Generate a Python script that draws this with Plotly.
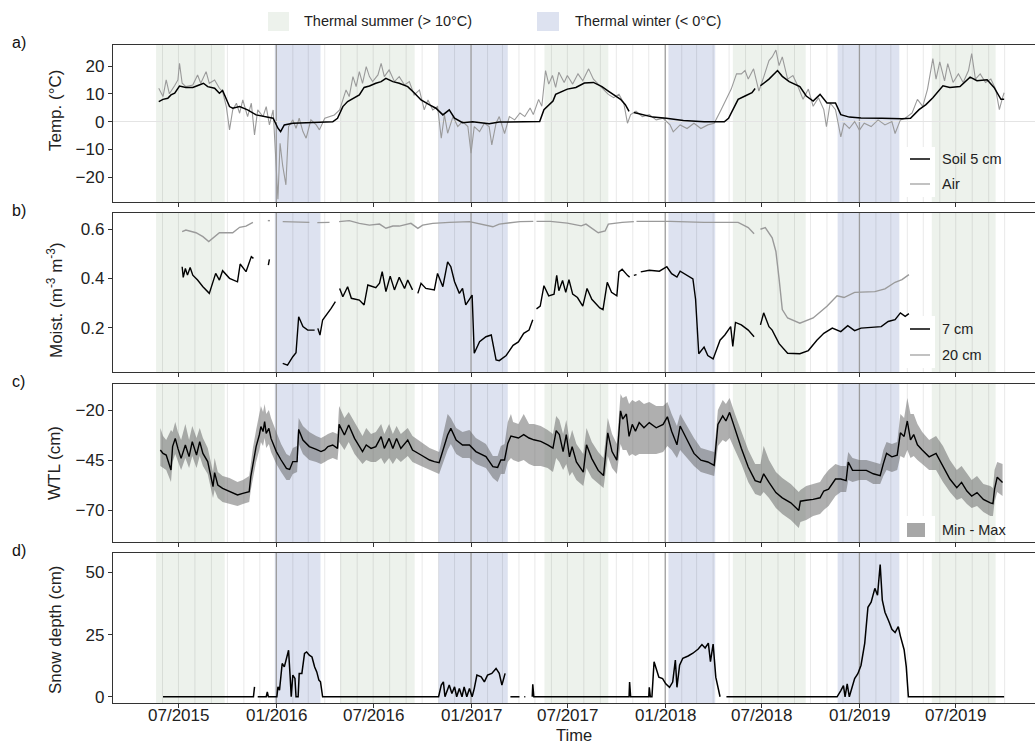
import plotly.graph_objects as go
import pandas as pd

# ---------------- data ----------------
summer_start = ["2015-05-20", "2016-04-30", "2017-05-19", "2018-05-08", "2019-05-17"]
summer_end = ["2015-09-26", "2016-09-17", "2017-09-16", "2018-09-22", "2019-09-14"]
winter_start = ["2015-12-29", "2016-11-01", "2018-01-07", "2018-11-21"]
winter_end = ["2016-03-24", "2017-03-11", "2018-04-05", "2019-03-17"]

tick_dates = ["2015-07-01", "2016-01-01", "2016-07-01", "2017-01-01", "2017-07-01",
              "2018-01-01", "2018-07-01", "2019-01-01", "2019-07-01"]
tick_labels = ["07/2015", "01/2016", "07/2016", "01/2017", "07/2017",
               "01/2018", "07/2018", "01/2019", "07/2019"]

soil_dates = ["2015-05-25", "2015-06-02", "2015-06-11", "2015-06-17", "2015-06-24", "2015-07-03", "2015-07-15",
              "2015-07-28", "2015-08-09", "2015-08-17", "2015-08-25", "2015-09-07", "2015-09-16", "2015-09-22",
              "2015-10-05", "2015-10-11", "2015-10-24", "2015-11-08", "2015-11-24", "2015-12-13", "2015-12-26",
              "2016-01-04", "2016-01-09", "2016-01-16", "2016-02-01", "2016-02-26", "2016-03-22", "2016-04-16",
              "2016-04-25", "2016-05-05", "2016-05-14", "2016-05-24", "2016-06-05", "2016-06-14", "2016-06-24",
              "2016-07-06", "2016-07-16", "2016-07-25", "2016-08-07", "2016-08-19", "2016-09-04", "2016-09-16",
              "2016-09-29", "2016-10-15", "2016-10-27", "2016-11-09", "2016-11-21", "2016-12-01", "2016-12-16",
              "2017-01-04", "2017-02-04", "2017-02-23", "2017-03-20", "2017-05-10", "2017-05-18", "2017-05-27",
              "2017-06-04", "2017-06-09", "2017-07-01", "2017-07-17", "2017-08-02", "2017-08-19", "2017-09-04",
              "2017-09-16", "2017-09-29", "2017-10-09", "2017-10-18", "2017-10-25", "2017-10-29", "2017-11-03",
              "2017-11-19", "2017-12-09", "2018-01-03", "2018-02-04", "2018-03-15", "2018-04-22", "2018-04-30",
              "2018-05-08", "2018-05-18", "2018-05-31", "2018-06-13", "2018-06-19", "2018-06-24", "2018-06-29",
              "2018-07-15", "2018-07-31", "2018-08-09", "2018-08-22", "2018-09-11", "2018-09-23", "2018-10-06",
              "2018-10-19", "2018-11-01", "2018-11-17", "2018-11-27", "2018-12-13", "2019-01-04", "2019-02-12",
              "2019-03-22", "2019-04-07", "2019-04-23", "2019-05-06", "2019-05-19", "2019-06-07", "2019-06-20",
              "2019-07-09", "2019-07-28", "2019-08-10", "2019-08-29", "2019-09-11", "2019-09-24", "2019-09-30"]
soil_temp = [7.2, 8.0, 8.4, 9.6, 10.2, 12.8, 12.3,
             12.3, 13.2, 13.8, 12.6, 12.0, 10.2, 11.2,
             5.4, 4.8, 5.4, 4.2, 2.4, 1.8, 1.2,
             -2.4, -3.6, -1.2, -0.6, -0.4, -0.2, -0.1,
             1.2, 5.4, 7.2, 8.4, 9.6, 12.3, 12.8,
             13.8, 14.4, 15.6, 14.4, 13.8, 12.6, 10.4,
             7.8, 6.0, 4.8, 2.4, 4.2, 1.2, -0.4,
             -0.1, -0.8, -0.2, -0.1, 0.0, 4.3, 6.1,
             7.4, 9.8, 11.7, 12.3, 13.9, 14.1, 12.6,
             11.0, 9.2, 8.0, 6.1, 3.7, None, 3.3,
             2.5, 1.6, 1.2, 0.4, -0.1, -0.1, 1.2,
             4.3, 8.0, 9.2, 10.4, 11.9, None, 12.9,
             15.3, 18.4, 16.3, 14.4, 12.6, 9.2, 7.4,
             9.8, 6.7, 6.7, 2.5, 1.6, 1.3, 1.2,
             1.0, 1.2, 4.3, 6.1, 8.6, 12.9, 12.3,
             12.6, 16.0, 14.7, 15.1, 12.3, 8.0, 8.0]

air_dates = ["2015-05-25", "2015-06-02", "2015-06-08", "2015-06-14", "2015-06-24", "2015-06-30", "2015-07-03",
             "2015-07-08", "2015-07-15", "2015-07-28", "2015-08-06", "2015-08-12", "2015-08-22", "2015-08-28",
             "2015-09-07", "2015-09-16", "2015-09-22", "2015-09-29", "2015-10-05", "2015-10-11", "2015-10-18",
             "2015-10-24", "2015-10-30", "2015-11-08", "2015-11-15", "2015-11-21", "2015-11-27", "2015-12-07",
             "2015-12-13", "2015-12-19", "2015-12-26", "2015-12-31", "2016-01-04", "2016-01-08", "2016-01-13",
             "2016-01-19", "2016-01-24", "2016-02-01", "2016-02-07", "2016-02-13", "2016-02-20", "2016-02-26",
             "2016-03-06", "2016-03-16", "2016-03-22", "2016-04-01", "2016-04-10", "2016-04-19", "2016-04-29",
             "2016-05-05", "2016-05-11", "2016-05-17", "2016-05-24", "2016-05-30", "2016-06-05", "2016-06-11",
             "2016-06-18", "2016-06-24", "2016-06-30", "2016-07-10", "2016-07-16", "2016-07-22", "2016-07-31",
             "2016-08-10", "2016-08-19", "2016-08-29", "2016-09-07", "2016-09-16", "2016-09-26", "2016-10-05",
             "2016-10-12", "2016-10-21", "2016-10-30", "2016-11-06", "2016-11-12", "2016-11-18", "2016-11-28",
             "2016-12-07", "2016-12-16", "2016-12-26", "2017-01-01", "2017-01-07", "2017-01-17", "2017-01-26",
             "2017-02-04", "2017-02-09", "2017-02-17", "2017-02-23", "2017-03-05", "2017-03-14", "2017-03-24",
             "2017-04-03", "2017-04-12", "2017-04-22", "2017-04-28", "2017-05-08", "2017-05-14", "2017-05-21",
             "2017-05-27", "2017-06-03", "2017-06-09", "2017-06-15", "2017-06-25", "2017-07-01", "2017-07-11",
             "2017-07-21", "2017-07-30", "2017-08-10", "2017-08-19", "2017-08-28", "2017-09-07", "2017-09-16",
             "2017-09-26", "2017-10-06", "2017-10-15", "2017-10-22", "2017-10-28", "2017-11-07", "2017-11-19",
             "2017-12-02", "2017-12-15", "2017-12-28", "2018-01-10", "2018-01-16", "2018-01-29", "2018-02-11",
             "2018-02-24", "2018-03-09", "2018-03-22", "2018-04-03", "2018-04-16", "2018-04-26", "2018-05-05",
             "2018-05-15", "2018-05-24", "2018-05-31", "2018-06-06", "2018-06-16", "2018-06-26", "2018-07-05",
             "2018-07-15", "2018-07-21", "2018-07-28", "2018-08-03", "2018-08-09", "2018-08-19", "2018-08-29",
             "2018-09-07", "2018-09-17", "2018-09-27", "2018-10-06", "2018-10-16", "2018-10-26", "2018-10-31",
             "2018-11-07", "2018-11-17", "2018-11-27", "2018-12-03", "2018-12-13", "2018-12-23", "2019-01-01",
             "2019-01-10", "2019-01-23", "2019-02-05", "2019-02-18", "2019-03-03", "2019-03-09", "2019-03-19",
             "2019-03-28", "2019-04-10", "2019-04-20", "2019-04-30", "2019-05-09", "2019-05-19", "2019-05-25",
             "2019-06-01", "2019-06-10", "2019-06-16", "2019-06-26", "2019-07-06", "2019-07-15", "2019-07-25",
             "2019-07-31", "2019-08-07", "2019-08-16", "2019-08-26", "2019-09-05", "2019-09-14", "2019-09-21",
             "2019-09-27", "2019-09-30"]
air_temp = [12, 9, 15, 10, 13, 15, 21,
            13.8, 12.6, 13.2, 16.8, 13.8, 18, 13.8,
            15, 12, 10.8, 5.4, -3, 4.2, 6.6,
            3, 7.8, 1.8, 6.6, -4.8, 4.2, 1.8,
            5.4, -1.2, 4.2, -11.4, -28, -7.8, -16,
            -22.8, -1.8, 0.6, -2.4, 1.2, -3.6, -6,
            0.6, -1.2, -3, 1.2, 1.8, 2.4, 4.2,
            7.8, 11.4, 9, 16.2, 12.6, 18, 13.8,
            19.8, 16.2, 14.4, 16.8, 21, 16.2, 18.6,
            14.4, 16.2, 13.2, 14.4, 9.6, 11.4, 4.2,
            7.8, 4.2, 5.4, -6, 2.4, -4.2, 1.8,
            -1.8, 0, -1.8, -11.4, -1.8, -3.6, -0.6,
            -1.8, -8.4, -0.6, 1.8, -4.3, 1.8, 0.6,
            3.1, 1.8, 4.9, 2.5, 8, 5.5, 18.4,
            13.5, 16.6, 12.3, 17.8, 14.1, 16.6, 13.5,
            17.2, 14.7, 19, 15.3, 13.5, 11.7, 9.8,
            8.6, 9.8, 6.7, -0.6, 2.5, 3.7, 1.8,
            2.5, 0.6, 1.2, -1.2, -3.7, -1.2, -2.5,
            -0.6, -2.5, -1.2, -0.6, 4.3, 8, 11.7,
            17.2, 17.2, 18.4, 15.3, 19, 11, 16,
            22, 23.3, 25.8, 20.2, 23.3, 15.3, 16.6,
            12.9, 8, 11.7, 5.5, 8.6, 4.3, -1.8,
            6.7, 4.3, -5.5, -0.6, -2.5, 0, -3.1,
            -0.6, -1.8, 0.6, -1.2, 0, -4.3, 0.6,
            1.2, 3.1, 8, 5.5, 11.7, 22.7, 15.3,
            21.5, 14.7, 20.9, 14.1, 17.2, 14.1, 18.4,
            24.5, 15.3, 17.2, 14.1, 15.3, 11.7, 4.3,
            8.6, 10.4]

m20_dates = ["2015-07-08", "2015-07-15", "2015-08-03", "2015-08-16", "2015-08-27", "2015-09-07", "2015-09-16",
             "2015-10-11", "2015-10-24", "2015-11-05", "2015-11-18", "2015-11-25", "2015-12-16", "2015-12-20",
             "2015-12-28", "2016-01-13", "2016-02-13", "2016-03-03", "2016-03-10", "2016-03-18", "2016-04-10",
             "2016-04-20", "2016-04-28", "2016-05-17", "2016-06-05", "2016-06-24", "2016-07-13", "2016-07-25",
             "2016-08-07", "2016-08-19", "2016-09-10", "2016-09-23", "2016-10-02", "2016-10-21", "2016-11-21",
             "2016-12-29", "2017-02-11", "2017-02-23", "2017-04-03", "2017-04-28", "2017-05-01", "2017-05-04",
             "2017-05-30", "2017-07-01", "2017-07-27", "2017-08-05", "2017-08-28", "2017-09-10", "2017-09-16",
             "2017-10-12", "2017-11-03", "2017-11-05", "2017-11-08", "2017-11-19", "2018-01-10", "2018-03-15",
             "2018-05-18", "2018-06-06", "2018-06-17", "2018-06-23", "2018-06-29", "2018-07-08", "2018-07-21",
             "2018-07-28", "2018-08-03", "2018-08-09", "2018-08-19", "2018-09-11", "2018-10-06", "2018-11-01",
             "2018-11-20", "2018-12-03", "2018-12-23", "2019-01-30", "2019-02-18", "2019-03-09", "2019-03-22",
             "2019-04-04"]
m20_vals = [0.589, 0.596, 0.585, 0.569, 0.549, 0.569, 0.585,
            0.585, 0.607, 0.612, 0.627, None, 0.634, 0.634,
            None, 0.630, 0.627, 0.627, None, 0.626, 0.627,
            None, 0.630, 0.634, 0.623, 0.616, 0.620, 0.603,
            0.612, 0.612, 0.623, 0.603, 0.616, 0.623, 0.627,
            0.630, 0.609, 0.620, 0.630, 0.631, None, 0.631,
            0.631, 0.624, 0.613, 0.620, 0.585, 0.592, 0.620,
            0.627, 0.630, None, 0.631, 0.631, 0.631, 0.627,
            0.627, 0.606, 0.581, None, 0.599, 0.606, 0.564,
            0.509, 0.398, 0.273, 0.239, 0.218, 0.239, 0.287,
            0.329, 0.322, 0.343, 0.346, 0.357, 0.384, 0.395,
            0.415]

m7_dates = ["2015-07-08", "2015-07-10", "2015-07-14", "2015-07-18", "2015-07-23", "2015-07-28", "2015-08-06",
            "2015-08-16", "2015-08-28", "2015-09-09", "2015-09-16", "2015-09-22", "2015-10-05", "2015-10-20",
            "2015-10-25", "2015-11-05", "2015-11-15", "2015-11-19", "2015-11-25", "2015-12-17", "2015-12-19",
            "2015-12-28", "2016-01-13", "2016-01-22", "2016-02-01", "2016-02-07", "2016-02-12", "2016-02-20",
            "2016-02-29", "2016-03-13", "2016-03-16", "2016-03-19", "2016-03-23", "2016-03-28", "2016-04-07",
            "2016-04-13", "2016-04-21", "2016-04-25", "2016-04-29", "2016-05-05", "2016-05-14", "2016-05-21",
            "2016-06-05", "2016-06-14", "2016-06-21", "2016-06-29", "2016-07-06", "2016-07-13", "2016-07-18",
            "2016-07-25", "2016-08-02", "2016-08-10", "2016-08-19", "2016-08-29", "2016-09-04", "2016-09-13",
            "2016-09-18", "2016-09-23", "2016-09-29", "2016-10-08", "2016-10-24", "2016-10-30", "2016-11-09",
            "2016-11-18", "2016-11-24", "2016-12-01", "2016-12-10", "2016-12-16", "2016-12-22", "2016-12-28",
            "2017-01-03", "2017-01-07", "2017-01-17", "2017-01-29", "2017-02-08", "2017-02-17", "2017-02-23",
            "2017-03-08", "2017-03-21", "2017-03-31", "2017-04-10", "2017-04-20", "2017-04-27", "2017-04-30",
            "2017-05-04", "2017-05-11", "2017-05-18", "2017-05-27", "2017-06-06", "2017-06-11", "2017-06-15",
            "2017-06-22", "2017-06-28", "2017-07-04", "2017-07-11", "2017-07-20", "2017-07-30", "2017-08-07",
            "2017-08-16", "2017-08-31", "2017-09-06", "2017-09-14", "2017-09-22", "2017-10-02", "2017-10-06",
            "2017-10-12", "2017-10-22", "2017-10-26", "2017-10-30", "2017-11-03", "2017-11-08", "2017-11-12",
            "2017-11-16", "2017-12-02", "2017-12-21", "2018-01-04", "2018-01-13", "2018-01-23", "2018-01-29",
            "2018-02-11", "2018-02-22", "2018-02-27", "2018-03-05", "2018-03-15", "2018-03-22", "2018-04-01",
            "2018-04-14", "2018-04-23", "2018-05-04", "2018-05-08", "2018-05-13", "2018-05-24", "2018-06-06",
            "2018-06-17", "2018-06-23", "2018-06-29", "2018-07-05", "2018-07-15", "2018-07-21", "2018-08-03",
            "2018-08-19", "2018-09-11", "2018-09-27", "2018-10-13", "2018-10-26", "2018-11-11", "2018-11-27",
            "2018-12-10", "2018-12-23", "2019-01-04", "2019-01-23", "2019-02-11", "2019-02-24", "2019-03-09",
            "2019-03-19", "2019-03-28", "2019-04-04"]
m7_vals = [0.447, 0.404, 0.440, 0.413, 0.444, 0.413, 0.393,
           0.366, 0.339, 0.420, 0.393, 0.431, 0.400, 0.386,
           0.458, 0.427, 0.488, 0.481, None, 0.454, 0.477,
           None, 0.055, 0.048, 0.082, 0.098, 0.244, 0.204,
           0.190, 0.190, None, 0.197, 0.170, 0.231, 0.258,
           0.278, 0.305, None, 0.359, 0.325, 0.366, 0.319,
           0.312, 0.292, 0.373, 0.366, 0.362, 0.380, 0.427,
           0.346, 0.409, 0.353, 0.404, 0.359, 0.393, 0.353,
           None, 0.339, 0.380, 0.359, 0.353, 0.420, 0.366,
           0.467, 0.447, 0.386, 0.339, 0.359, 0.292, 0.312,
           0.332, 0.096, 0.143, 0.163, 0.170, 0.069, 0.066,
           0.087, 0.128, 0.142, 0.177, 0.190, 0.232, None,
           0.276, 0.287, 0.370, 0.329, 0.336, 0.412, 0.350,
           0.391, 0.343, 0.395, 0.336, 0.322, 0.287, 0.359,
           0.315, 0.280, 0.273, 0.384, 0.343, 0.329, 0.426,
           0.437, 0.412, 0.405, None, 0.412, 0.415, None,
           0.426, 0.433, 0.429, 0.447, 0.419, 0.405, 0.429,
           0.412, 0.398, 0.315, 0.094, 0.121, 0.087, 0.073,
           0.149, 0.170, 0.204, 0.124, 0.221, 0.211, 0.190,
           0.163, None, 0.211, 0.260, 0.204, 0.190, 0.135,
           0.096, 0.094, 0.107, 0.149, 0.177, 0.198, 0.184,
           0.208, 0.188, 0.198, 0.202, 0.204, 0.225, 0.232,
           0.260, 0.246, 0.257]

wtl_dates = ["2015-05-28", "2015-06-02", "2015-06-08", "2015-06-17", "2015-06-20", "2015-06-25", "2015-06-30",
             "2015-07-06", "2015-07-14", "2015-07-21", "2015-07-27", "2015-08-04", "2015-08-10", "2015-08-16",
             "2015-08-25", "2015-09-04", "2015-09-07", "2015-09-13", "2015-09-22", "2015-10-05", "2015-10-20",
             "2015-10-30", "2015-11-11", "2015-11-14", "2015-11-18", "2015-11-24", "2015-11-30", "2015-12-03",
             "2015-12-07", "2015-12-10", "2015-12-13", "2015-12-18", "2015-12-22", "2015-12-27", "2016-01-01",
             "2016-01-10", "2016-01-20", "2016-01-26", "2016-02-01", "2016-02-09", "2016-02-12", "2016-02-20",
             "2016-03-03", "2016-03-16", "2016-03-25", "2016-04-01", "2016-04-07", "2016-04-16", "2016-04-25",
             "2016-04-28", "2016-05-08", "2016-05-16", "2016-05-27", "2016-06-11", "2016-06-18", "2016-06-27",
             "2016-07-06", "2016-07-16", "2016-07-22", "2016-07-31", "2016-08-07", "2016-08-14", "2016-08-22",
             "2016-09-04", "2016-09-13", "2016-09-29", "2016-10-15", "2016-10-24", "2016-11-02", "2016-11-18",
             "2016-11-24", "2016-12-04", "2016-12-16", "2016-12-29", "2017-01-10", "2017-01-29", "2017-02-11",
             "2017-02-20", "2017-02-26", "2017-03-05", "2017-03-11", "2017-03-17", "2017-03-21", "2017-03-31",
             "2017-04-10", "2017-04-20", "2017-04-29", "2017-05-12", "2017-05-25", "2017-06-04", "2017-06-10",
             "2017-06-16", "2017-06-23", "2017-06-29", "2017-07-05", "2017-07-10", "2017-07-18", "2017-07-31",
             "2017-08-06", "2017-08-16", "2017-08-28", "2017-09-07", "2017-09-15", "2017-09-23", "2017-10-02",
             "2017-10-09", "2017-10-13", "2017-10-20", "2017-10-25", "2017-10-31", "2017-11-06", "2017-11-13",
             "2017-11-22", "2017-12-02", "2017-12-15", "2017-12-28", "2018-01-05", "2018-01-13", "2018-01-23",
             "2018-01-29", "2018-02-11", "2018-02-24", "2018-03-09", "2018-03-22", "2018-04-03", "2018-04-10",
             "2018-04-19", "2018-04-25", "2018-05-02", "2018-05-12", "2018-05-24", "2018-06-06", "2018-06-19",
             "2018-06-29", "2018-07-05", "2018-07-15", "2018-07-28", "2018-08-09", "2018-08-25", "2018-09-09",
             "2018-09-12", "2018-09-23", "2018-10-06", "2018-10-19", "2018-10-26", "2018-11-04", "2018-11-17",
             "2018-11-27", "2018-12-07", "2018-12-11", "2018-12-19", "2019-01-01", "2019-01-14", "2019-01-27",
             "2019-02-09", "2019-02-15", "2019-02-21", "2019-03-03", "2019-03-13", "2019-03-19", "2019-03-26",
             "2019-04-01", "2019-04-07", "2019-04-13", "2019-04-20", "2019-04-29", "2019-05-12", "2019-05-25",
             "2019-06-07", "2019-06-20", "2019-07-03", "2019-07-12", "2019-07-22", "2019-07-31", "2019-08-10",
             "2019-08-22", "2019-09-04", "2019-09-09", "2019-09-12", "2019-09-17", "2019-09-27"]
wtl_mean = [-40, -41.7, -42.5, -50, -38.3, -34.2, -39.2,
            -44.2, -37.5, -43.3, -35.8, -42.5, -35.8, -41.7,
            -45.8, -58.3, -51.3, -57.5, -59.2, -60.8, -62.5,
            -61.7, -60.8, -53.3, -46.7, -38.3, -32.5, -28.3,
            -30.8, -25.8, -31.7, -29.2, -34.2, -37.5, -40.8,
            -45, -49.2, -49.7, -45.8, -45.8, -29.7, -35,
            -38.3, -39.7, -40.8, -40, -38.3, -37.5, -39.2,
            -27.2, -32.5, -27.5, -34.2, -40.8, -37.5, -39.2,
            -38.3, -33.3, -39.2, -34.2, -39.2, -34.2, -39.2,
            -35, -40, -42.5, -45, -45.8, -46.3, -32.5,
            -29.2, -35, -37.5, -37.5, -40.8, -43.3, -48.3,
            -48.7, -45, -45, -36.7, -33, -33.2, -34,
            -32.3, -34, -34.9, -35.7, -37.4, -39.1, -30.3,
            -32.3, -40.8, -32.3, -43.4, -38.3, -46, -51.1,
            -37.4, -44.3, -50.2, -52.8, -31.4, -40.8, -45.1,
            -20.4, -24.6, -22, -33.2, -27.2, -30.6, -26.3,
            -28.9, -26.3, -28.9, -27.2, -23.4, -30.6, -37.4,
            -28, -34.9, -41.7, -45.1, -46, -47.7, -27.2,
            -22.9, -25.5, -21.2, -29.8, -39.1, -48.5, -55.3,
            -56.2, -51.9, -56.2, -61.3, -63.9, -66.4, -70.2,
            -65.6, -65.1, -64.7, -63.9, -60.5, -59.6, -54.5,
            -54.5, -55.3, -46, -50.2, -50.2, -50.2, -51.9,
            -52.8, -46.8, -41.7, -43.4, -42.6, -31.4, -33.2,
            -25.5, -34.9, -32.3, -37.4, -40, -43.4, -41.7,
            -48.5, -54.5, -58.8, -56.2, -60.5, -63, -61.3,
            -64.7, -66.4, -66.8, -59.6, -53.6, -56.2]
wtl_max = [-29, -33, -35, -30, -31, -26, -31,
           -35, -27, -35, -28, -34, -29, -34,
           -39, -51, -44, -51, -53, -54, -56,
           -55, -53, -47, -39, -30, -22, -18,
           -21, -17, -22, -20, -24, -28, -31,
           -37, -42, -43, -39, -38, -24, -28,
           -31, -33, -34, -33, -32, -31, -32,
           -18, -24, -21, -26, -33, -29, -32,
           -31, -27, -32, -27, -32, -28, -32,
           -29, -33, -36, -39, -40, -41, -22,
           -24, -29, -31, -30, -34, -37, -43,
           -43, -38, -37, -26, -22, -26, -27,
           -22, -27, -27, -28, -30, -32, -23,
           -25, -32, -25, -35, -30, -37, -42,
           -29, -36, -41, -44, -24, -32, -37,
           -12, -14, -13, -17, -15, -16, -15,
           -17, -16, -18, -18, -16, -22, -28,
           -22, -28, -34, -39, -40, -41, -20,
           -15, -17, -14, -22, -31, -40, -47,
           -47, -38, -45, -51, -54, -57, -61,
           -60, -58, -57, -56, -53, -50, -47,
           -48, -48, -41, -44, -45, -45, -46,
           -47, -40, -36, -37, -36, -22, -24,
           -14, -22, -22, -27, -31, -35, -33,
           -38, -45, -50, -48, -52, -55, -53,
           -57, -58, -59, -50, -46, -47]
wtl_min = [-48, -49, -50, -56, -46, -42, -46,
           -50, -44, -49, -43, -49, -43, -48,
           -52, -64, -60, -64, -66, -67, -68,
           -67, -66, -60, -54, -46, -40, -36,
           -38, -34, -39, -37, -41, -44, -47,
           -51, -55, -55, -52, -51, -37, -42,
           -45, -46, -47, -46, -45, -44, -45,
           -36, -40, -36, -42, -47, -45, -46,
           -46, -44, -47, -44, -47, -44, -46,
           -43, -46, -48, -50, -51, -52, -40,
           -37, -42, -44, -44, -47, -49, -54,
           -56, -52, -52, -46, -44, -45, -46,
           -45, -47, -48, -48, -49, -51, -44,
           -46, -50, -47, -53, -51, -55, -58,
           -49, -54, -57, -59, -43, -49, -52,
           -37, -40, -40, -43, -42, -43, -42,
           -42, -42, -42, -41, -38, -40, -44,
           -40, -44, -48, -51, -52, -53, -38,
           -35, -36, -34, -40, -47, -56, -62,
           -63, -61, -64, -69, -72, -75, -79,
           -76, -75, -73, -72, -70, -68, -63,
           -61, -61, -55, -56, -55, -55, -57,
           -57, -53, -50, -51, -50, -43, -44,
           -40, -44, -43, -45, -47, -50, -50,
           -56, -61, -65, -64, -67, -69, -68,
           -71, -73, -73, -66, -61, -63]

snow_dates = ["2015-06-02", "2015-11-19", "2015-11-21", "2015-11-24", "2015-11-27", "2015-12-13", "2015-12-15",
              "2015-12-17", "2016-01-02", "2016-01-04", "2016-01-07", "2016-01-12", "2016-01-16", "2016-01-21",
              "2016-01-24", "2016-01-27", "2016-01-29", "2016-02-01", "2016-02-05", "2016-02-07", "2016-02-11",
              "2016-02-13", "2016-02-18", "2016-02-23", "2016-02-27", "2016-03-03", "2016-03-08", "2016-03-13",
              "2016-03-17", "2016-03-21", "2016-03-24", "2016-03-28", "2016-11-01", "2016-11-06", "2016-11-10",
              "2016-11-13", "2016-11-18", "2016-11-21", "2016-11-26", "2016-12-01", "2016-12-05", "2016-12-10",
              "2016-12-15", "2016-12-19", "2016-12-24", "2016-12-29", "2017-01-03", "2017-01-07", "2017-01-12",
              "2017-01-20", "2017-01-26", "2017-02-01", "2017-02-09", "2017-02-17", "2017-02-23", "2017-02-28",
              "2017-03-06", "2017-03-10", "2017-03-16", "2017-04-02", "2017-04-07", "2017-04-11", "2017-04-13",
              "2017-04-20", "2017-04-26", "2017-04-27", "2017-04-29", "2017-10-25", "2017-10-26", "2017-10-28",
              "2017-12-01", "2017-12-02", "2017-12-04", "2017-12-07", "2017-12-11", "2017-12-15", "2017-12-20",
              "2017-12-27", "2018-01-02", "2018-01-09", "2018-01-15", "2018-01-20", "2018-01-23", "2018-01-28",
              "2018-02-03", "2018-02-13", "2018-02-22", "2018-03-04", "2018-03-11", "2018-03-17", "2018-03-23",
              "2018-03-27", "2018-04-01", "2018-04-06", "2018-04-10", "2018-04-14", "2018-04-20", "2018-04-26",
              "2018-11-20", "2018-11-27", "2018-12-02", "2018-12-05", "2018-12-09", "2018-12-13", "2018-12-16",
              "2018-12-23", "2018-12-29", "2019-01-04", "2019-01-11", "2019-01-17", "2019-01-23", "2019-01-30",
              "2019-02-04", "2019-02-09", "2019-02-13", "2019-02-18", "2019-02-25", "2019-03-03", "2019-03-09",
              "2019-03-15", "2019-03-19", "2019-03-26", "2019-03-30", "2019-04-03", "2019-09-30"]
snow_depth = [0, 0, 4, None, 0, 0, 2,
              0, 0, 4, 2.7, 13.4, 12, 16,
              18.7, 8, 0, 8.7, 7.4, 0, 0,
              9.4, 9.4, 17.4, 18, 16.7, 16, 12,
              10, 6.7, 6, 0, 0, 4.7, 6,
              0, 2.7, 4.7, 1.3, 4, 0, 3.3,
              0, 4, 0, 3.3, 0, 3.3, 8.7,
              8, 6, 8.7, 9.4, 11.4, 9.4, 4.7,
              9.4, None, 0, 0, None, 0, 0,
              None, 0, 5, 0, 0, 5.9, 0,
              0, 3.8, 0, 0, 14.1, 11.4, 7.9,
              7.3, 5.2, 3.8, 5.9, 14.8, 3.8, 12.7,
              15.5, 16.4, 17.5, 19.2, 21, 19.6, 21.6,
              14.1, 21.2, 7.9, 3.8, 0, None, 0,
              0, 2.5, 4.5, 0, 5.2, 0, 2.5,
              7.3, 9.3, 12.7, 21.6, 36, 38, 43.6,
              40.8, 53.2, 38.8, 34, 30.5, 27.1, 25.8,
              28.2, 24.4, 18.9, 12.1, 0, 0]

# ---------------- geometry ----------------
W, H = 1035, 744
ML, MR, MT, MB = 113, 0, 45, 41
PW, PH = W - ML - MR, H - MT - MB


def fx(px):
    return (px - ML) / PW


def fy(py):
    return 1 - (py - MT) / PH


panels_px = [(45, 202), (213, 372), (384, 542), (553, 703)]
yranges = [[-29, 27.6], [0.02, 0.665], [-86, -7], [-2.5, 57.8]]
yticks = [[-20, -10, 0, 10, 20], [0.2, 0.4, 0.6], [-70, -45, -20], [0, 25, 50]]
ytitles = ["Temp. (°C)", "Moist. (m<sup>-3</sup> m<sup>-3</sup>)", "WTL (cm)", "Snow depth (cm)"]
ytitle_centers = [110, 300, 463, 629]
labels = ["a)", "b)", "c)", "d)"]
xrange_ = ["2015-02-28", "2019-11-27"]

FONT = "Liberation Sans, Arial, sans-serif"
DARK = "#333333"
SUMMER = "#EDF2EC"
WINTER = "#DDE2F0"

fig = go.Figure()

# panel a
fig.add_trace(go.Scatter(x=air_dates, y=air_temp, mode="lines", line=dict(color="#9a9a9a", width=1.1),
                         xaxis="x", yaxis="y", showlegend=False))
fig.add_trace(go.Scatter(x=soil_dates, y=soil_temp, mode="lines", line=dict(color="black", width=1.5),
                         xaxis="x", yaxis="y", showlegend=False))
# panel b
fig.add_trace(go.Scatter(x=m20_dates, y=m20_vals, mode="lines", line=dict(color="#9a9a9a", width=1.4),
                         xaxis="x2", yaxis="y2", showlegend=False))
fig.add_trace(go.Scatter(x=m7_dates, y=m7_vals, mode="lines", line=dict(color="black", width=1.4),
                         xaxis="x2", yaxis="y2", showlegend=False))
# panel c
fig.add_trace(go.Scatter(x=wtl_dates, y=wtl_min, mode="lines", line=dict(width=0, color="rgba(0,0,0,0)"),
                         xaxis="x3", yaxis="y3", showlegend=False))
fig.add_trace(go.Scatter(x=wtl_dates, y=wtl_max, mode="lines", line=dict(width=0, color="rgba(0,0,0,0)"),
                         fill="tonexty", fillcolor="rgba(95,95,95,0.5)",
                         xaxis="x3", yaxis="y3", showlegend=False))
fig.add_trace(go.Scatter(x=wtl_dates, y=wtl_mean, mode="lines", line=dict(color="black", width=1.4),
                         xaxis="x3", yaxis="y3", showlegend=False))
# panel d
fig.add_trace(go.Scatter(x=snow_dates, y=snow_depth, mode="lines", line=dict(color="black", width=1.5),
                         xaxis="x4", yaxis="y4", showlegend=False))

layout = dict(width=W, height=H, margin=dict(l=ML, r=MR, t=MT, b=MB),
              plot_bgcolor="white", paper_bgcolor="white",
              font=dict(family=FONT, size=16, color="#222"))

shapes = []
annotations = []
month_starts = pd.date_range("2015-06-01", "2019-10-01", freq="MS")

for i, (top, bot) in enumerate(panels_px):
    n = "" if i == 0 else str(i + 1)
    layout["xaxis" + n] = dict(
        type="date", range=xrange_, domain=[0, 1], anchor="y" + n,
        tickvals=tick_dates, showticklabels=False,
        ticks="outside", ticklen=4, tickwidth=1, tickcolor=DARK,
        showline=True, linecolor=DARK, linewidth=1.3, mirror=True,
        showgrid=False, zeroline=False,
        **({} if i == 0 else {"matches": "x"}))
    layout["yaxis" + n] = dict(
        domain=[fy(bot), fy(top)], anchor="x" + n, range=yranges[i],
        tickvals=yticks[i], ticks="outside", ticklen=4, tickwidth=1, tickcolor=DARK,
        showline=True, linecolor=DARK, linewidth=1.3, mirror=False,
        showgrid=False, zeroline=(i == 0), zerolinecolor="#e4e4e4", zerolinewidth=1,
        tickfont=dict(family=FONT, size=17, color="#222"))
    xr = "x" + n
    yr = ("y" + n) + " domain"
    for s, e in zip(summer_start, summer_end):
        shapes.append(dict(type="rect", xref=xr, yref=yr, x0=s, x1=e, y0=0, y1=1,
                           fillcolor=SUMMER, line=dict(width=0), layer="below"))
    for s, e in zip(winter_start, winter_end):
        shapes.append(dict(type="rect", xref=xr, yref=yr, x0=s, x1=e, y0=0, y1=1,
                           fillcolor=WINTER, line=dict(width=0), layer="below"))
    for d in month_starts:
        if d.month == 1:
            continue
        shapes.append(dict(type="line", xref=xr, yref=yr, x0=d, x1=d, y0=0, y1=1,
                           line=dict(color="rgba(0,0,0,0.09)", width=1), layer="below"))
    for d in month_starts:
        if d.month != 1:
            continue
        shapes.append(dict(type="line", xref=xr, yref=yr, x0=d, x1=d, y0=0, y1=1,
                           line=dict(color="#9c9c9c", width=1.3), layer="below"))
    annotations.append(dict(text=labels[i], xref="paper", yref="paper", x=fx(10), y=fy(top - 3),
                            xanchor="left", yanchor="middle", showarrow=False,
                            font=dict(family=FONT, size=16, color="#111")))
    annotations.append(dict(text=ytitles[i], xref="paper", yref="paper", x=fx(55), y=fy(ytitle_centers[i]),
                            xanchor="center", yanchor="middle", textangle=-90, showarrow=False,
                            font=dict(family=FONT, size=17, color="#222")))

# x tick labels on the bottom panel, placed under each tick
for d, lab in zip(tick_dates, tick_labels):
    annotations.append(dict(text=lab, xref="x4", yref="paper", x=d, y=fy(715),
                            xanchor="center", yanchor="middle", showarrow=False,
                            font=dict(family=FONT, size=17, color="#222")))

# x title
annotations.append(dict(text="Time", xref="paper", yref="paper", x=fx(574), y=fy(735),
                        xanchor="center", yanchor="middle", showarrow=False,
                        font=dict(family=FONT, size=16.5, color="#222")))

# top legend (thermal seasons)
shapes.append(dict(type="rect", xref="paper", yref="paper", x0=fx(268), x1=fx(289), y0=fy(31), y1=fy(12),
                   fillcolor=SUMMER, line=dict(width=0)))
annotations.append(dict(text="Thermal summer (> 10°C)", xref="paper", yref="paper", x=fx(302), y=fy(21.5),
                        xanchor="left", yanchor="middle", showarrow=False,
                        font=dict(family=FONT, size=14.5, color="#222")))
shapes.append(dict(type="rect", xref="paper", yref="paper", x0=fx(537), x1=fx(559), y0=fy(31), y1=fy(12),
                   fillcolor=WINTER, line=dict(width=0)))
annotations.append(dict(text="Thermal winter (< 0°C)", xref="paper", yref="paper", x=fx(573), y=fy(21.5),
                        xanchor="left", yanchor="middle", showarrow=False,
                        font=dict(family=FONT, size=14.5, color="#222")))

# in-panel legends
legend_rows = [
    (159, "Soil 5 cm", "black", 1.5), (184, "Air", "#9a9a9a", 1.2),
    (329, "7 cm", "black", 1.5), (355, "20 cm", "#9a9a9a", 1.2),
]
key_boxes = [(147, 197), (316, 368), (516, 542)]
for (b0, b1) in key_boxes:
    shapes.append(dict(type="rect", xref="paper", yref="paper", x0=fx(904), x1=fx(935), y0=fy(b1), y1=fy(b0),
                       fillcolor="white", line=dict(width=0), layer="between"))
for (yy, txt, col, w) in legend_rows:
    shapes.append(dict(type="line", xref="paper", yref="paper", x0=fx(910), x1=fx(930), y0=fy(yy), y1=fy(yy),
                       line=dict(color=col, width=w)))
    annotations.append(dict(text=txt, xref="paper", yref="paper", x=fx(940), y=fy(yy),
                            xanchor="left", yanchor="middle", showarrow=False,
                            font=dict(family=FONT, size=14.5, color="#222")))
shapes.append(dict(type="rect", xref="paper", yref="paper", x0=fx(907), x1=fx(925), y0=fy(537), y1=fy(523),
                   fillcolor="rgba(95,95,95,0.55)", line=dict(width=0)))
annotations.append(dict(text="Min - Max", xref="paper", yref="paper", x=fx(940), y=fy(530),
                        xanchor="left", yanchor="middle", showarrow=False,
                        font=dict(family=FONT, size=14.5, color="#222")))

layout["shapes"] = shapes
layout["annotations"] = annotations
fig.update_layout(**layout)

fig.write_html("out.html")
